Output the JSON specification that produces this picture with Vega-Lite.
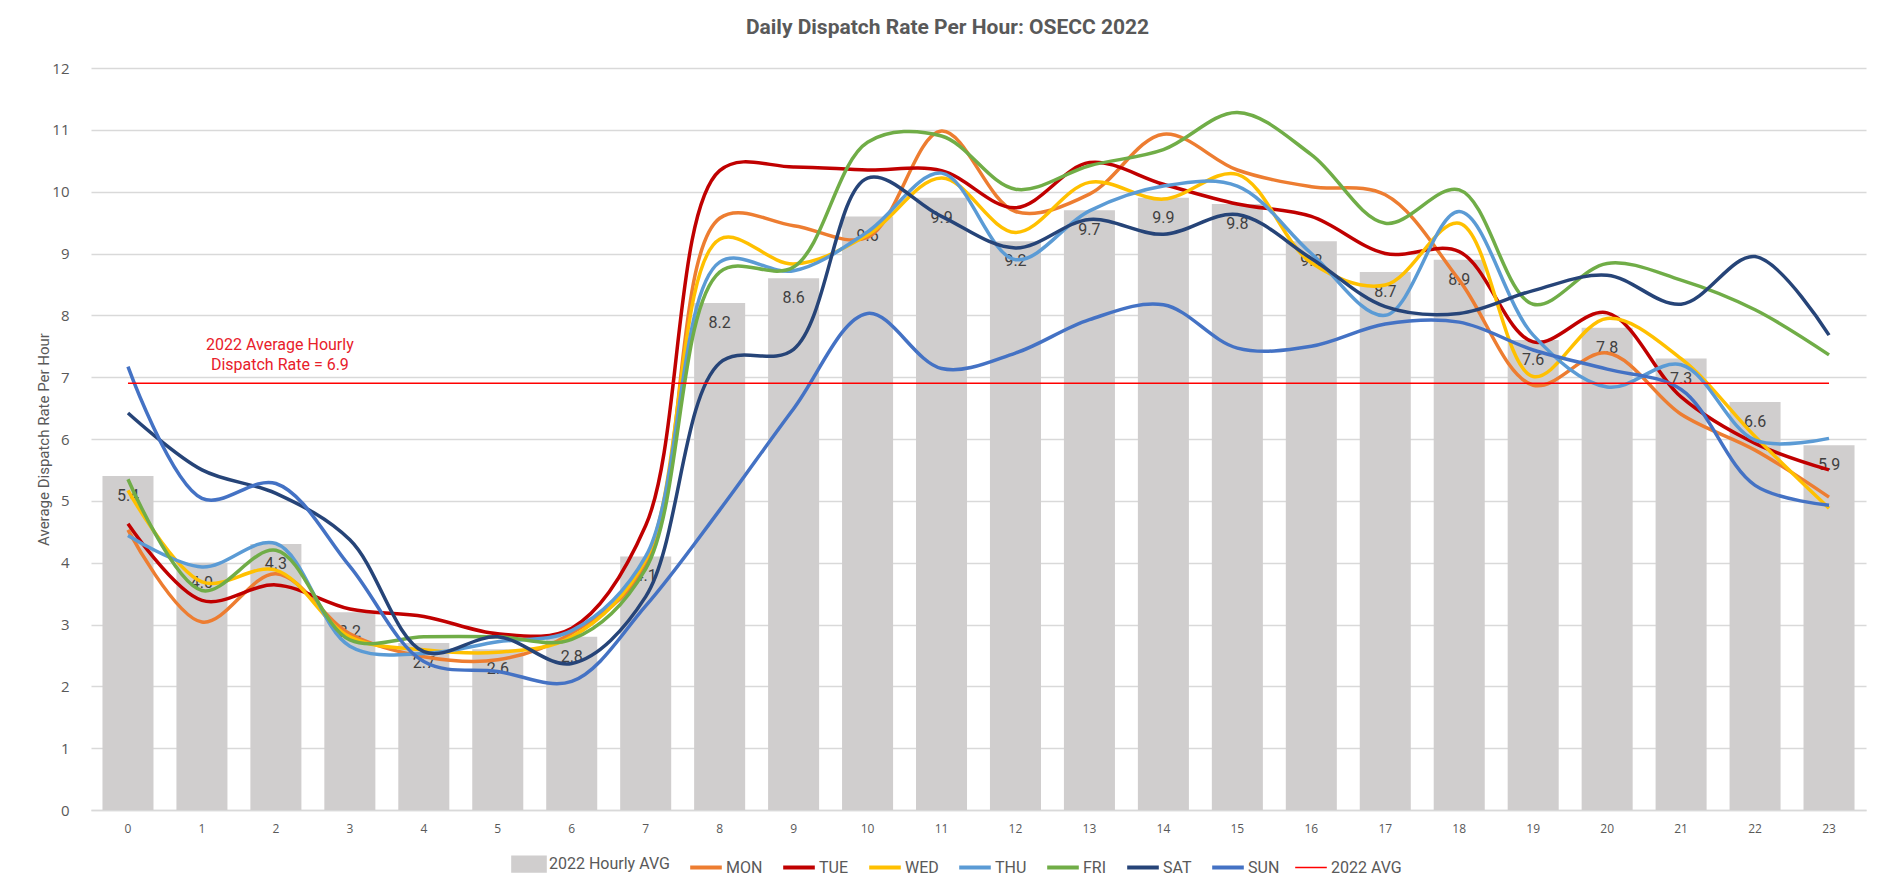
{
  "$schema": "https://vega.github.io/schema/vega-lite/v6.json",
  "autosize": {"type": "none"},
  "width": 1775,
  "height": 742,
  "padding": {"left": 91, "top": 68, "right": 14, "bottom": 80},
  "background": "white",
  "title": {
    "text": "Daily Dispatch Rate Per Hour: OSECC 2022",
    "font": "Roboto, sans-serif",
    "fontSize": 21,
    "fontWeight": "bold",
    "color": "#595959",
    "anchor": "middle",
    "dx": -31,
    "offset": 23
  },
  "config": {
    "view": {"stroke": null},
    "axis": {"grid": false}
  },
  "datasets": {
    "hours": [
      {"hour": 0, "Hourly": 5.4, "MON": 4.53, "TUE": 4.63, "WED": 5.17, "THU": 4.44, "FRI": 5.35, "SAT": 6.42, "SUN": 7.17, "AVG": 6.9},
      {"hour": 1, "Hourly": 4.0, "MON": 3.04, "TUE": 3.39, "WED": 3.69, "THU": 3.93, "FRI": 3.55, "SAT": 5.5, "SUN": 5.04, "AVG": 6.9},
      {"hour": 2, "Hourly": 4.3, "MON": 3.82, "TUE": 3.64, "WED": 3.88, "THU": 4.31, "FRI": 4.2, "SAT": 5.12, "SUN": 5.28, "AVG": 6.9},
      {"hour": 3, "Hourly": 3.2, "MON": 2.85, "TUE": 3.25, "WED": 2.8, "THU": 2.65, "FRI": 2.75, "SAT": 4.37, "SUN": 3.94, "AVG": 6.9},
      {"hour": 4, "Hourly": 2.7, "MON": 2.48, "TUE": 3.13, "WED": 2.59, "THU": 2.53, "FRI": 2.8, "SAT": 2.56, "SUN": 2.4, "AVG": 6.9},
      {"hour": 5, "Hourly": 2.6, "MON": 2.43, "TUE": 2.85, "WED": 2.55, "THU": 2.72, "FRI": 2.8, "SAT": 2.8, "SUN": 2.24, "AVG": 6.9},
      {"hour": 6, "Hourly": 2.8, "MON": 2.86, "TUE": 2.94, "WED": 2.8, "THU": 2.9, "FRI": 2.76, "SAT": 2.37, "SUN": 2.08, "AVG": 6.9},
      {"hour": 7, "Hourly": 4.1, "MON": 3.95, "TUE": 4.6, "WED": 4.05, "THU": 4.1, "FRI": 3.9, "SAT": 3.45, "SUN": 3.3, "AVG": 6.9},
      {"hour": 8, "Hourly": 8.2, "MON": 9.57, "TUE": 10.34, "WED": 9.23, "THU": 8.86, "FRI": 8.7, "SAT": 7.23, "SUN": 4.85, "AVG": 6.9},
      {"hour": 9, "Hourly": 8.6, "MON": 9.45, "TUE": 10.4, "WED": 8.83, "THU": 8.72, "FRI": 8.78, "SAT": 7.45, "SUN": 6.49, "AVG": 6.9},
      {"hour": 10, "Hourly": 9.6, "MON": 9.26, "TUE": 10.35, "WED": 9.3, "THU": 9.35, "FRI": 10.8, "SAT": 10.22, "SUN": 8.03, "AVG": 6.9},
      {"hour": 11, "Hourly": 9.9, "MON": 10.98, "TUE": 10.34, "WED": 10.22, "THU": 10.3, "FRI": 10.9, "SAT": 9.6, "SUN": 7.14, "AVG": 6.9},
      {"hour": 12, "Hourly": 9.2, "MON": 9.68, "TUE": 9.74, "WED": 9.34, "THU": 8.9, "FRI": 10.04, "SAT": 9.09, "SUN": 7.39, "AVG": 6.9},
      {"hour": 13, "Hourly": 9.7, "MON": 9.96, "TUE": 10.47, "WED": 10.15, "THU": 9.69, "FRI": 10.42, "SAT": 9.55, "SUN": 7.93, "AVG": 6.9},
      {"hour": 14, "Hourly": 9.9, "MON": 10.93, "TUE": 10.12, "WED": 9.88, "THU": 10.09, "FRI": 10.68, "SAT": 9.31, "SUN": 8.17, "AVG": 6.9},
      {"hour": 15, "Hourly": 9.8, "MON": 10.35, "TUE": 9.8, "WED": 10.28, "THU": 10.09, "FRI": 11.28, "SAT": 9.63, "SUN": 7.47, "AVG": 6.9},
      {"hour": 16, "Hourly": 9.2, "MON": 10.08, "TUE": 9.6, "WED": 8.85, "THU": 9.0, "FRI": 10.6, "SAT": 8.92, "SUN": 7.5, "AVG": 6.9},
      {"hour": 17, "Hourly": 8.7, "MON": 9.95, "TUE": 9.0, "WED": 8.49, "THU": 8.0, "FRI": 9.49, "SAT": 8.14, "SUN": 7.86, "AVG": 6.9},
      {"hour": 18, "Hourly": 8.9, "MON": 8.57, "TUE": 9.03, "WED": 9.49, "THU": 9.68, "FRI": 10.03, "SAT": 8.03, "SUN": 7.89, "AVG": 6.9},
      {"hour": 19, "Hourly": 7.6, "MON": 6.87, "TUE": 7.57, "WED": 7.01, "THU": 7.68, "FRI": 8.18, "SAT": 8.4, "SUN": 7.44, "AVG": 6.9},
      {"hour": 20, "Hourly": 7.8, "MON": 7.39, "TUE": 8.04, "WED": 7.95, "THU": 6.84, "FRI": 8.84, "SAT": 8.65, "SUN": 7.13, "AVG": 6.9},
      {"hour": 21, "Hourly": 7.3, "MON": 6.4, "TUE": 6.68, "WED": 7.3, "THU": 7.2, "FRI": 8.57, "SAT": 8.18, "SUN": 6.8, "AVG": 6.9},
      {"hour": 22, "Hourly": 6.6, "MON": 5.82, "TUE": 5.93, "WED": 6.04, "THU": 5.98, "FRI": 8.09, "SAT": 8.95, "SUN": 5.25, "AVG": 6.9},
      {"hour": 23, "Hourly": 5.9, "MON": 5.06, "TUE": 5.5, "WED": 4.88, "THU": 6.01, "FRI": 7.36, "SAT": 7.68, "SUN": 4.93, "AVG": 6.9}
    ],
    "note": [
      {"hour": 2, "value": 7.52, "label": "2022 Average Hourly\nDispatch Rate = 6.9"}
    ]
  },
  "encoding": {
    "x": {
      "field": "hour",
      "type": "ordinal",
      "scale": {"paddingInner": 0.31, "paddingOuter": 0.155},
      "axis": {
        "title": null,
        "labelAngle": 0,
        "labelFont": "Open Sans, sans-serif",
        "labelFontSize": 12,
        "labelColor": "#595959",
        "labelPadding": 13,
        "ticks": false,
        "domain": true,
        "domainColor": "#D9D9D9",
        "domainWidth": 1.5
      }
    }
  },
  "layer": [
    {
      "data": {"name": "hours"},
      "mark": {"type": "bar", "color": "#D0CECE"},
      "encoding": {
        "y": {
          "field": "Hourly",
          "type": "quantitative",
          "scale": {"domain": [0, 12], "nice": false},
          "axis": {
            "title": "Average Dispatch Rate Per Hour",
            "titleFont": "Roboto, sans-serif",
            "titleFontSize": 15,
            "titleFontWeight": "normal",
            "titleColor": "#595959",
            "titlePadding": 0,
            "values": [0, 1, 2, 3, 4, 5, 6, 7, 8, 9, 10, 11, 12],
            "format": "d",
            "grid": true,
            "gridColor": "#D9D9D9",
            "gridWidth": 1.5,
            "domain": false,
            "ticks": false,
            "labelFont": "Open Sans, sans-serif",
            "labelFontSize": 15,
            "labelColor": "#595959",
            "labelPadding": 22
          }
        },
        "color": {"datum": "2022 Hourly AVG", "type": "nominal"}
      }
    },
    {
      "data": {"name": "hours"},
      "mark": {
        "type": "text",
        "baseline": "middle",
        "dy": 20,
        "font": "Roboto, sans-serif",
        "fontSize": 16,
        "color": "#404040"
      },
      "encoding": {
        "y": {"field": "Hourly", "type": "quantitative"},
        "text": {"field": "Hourly", "type": "quantitative", "format": ".1f"}
      }
    },
    {
      "data": {"name": "hours"},
      "transform": [
        {"fold": ["MON", "TUE", "WED", "THU", "FRI", "SAT", "SUN", "AVG"], "as": ["series", "rate"]},
        {"lookup": "series", "from": {"data": {"values": [
          {"series": "MON", "name": "MON", "w": 3.5},
          {"series": "TUE", "name": "TUE", "w": 3.5},
          {"series": "WED", "name": "WED", "w": 3.5},
          {"series": "THU", "name": "THU", "w": 3.5},
          {"series": "FRI", "name": "FRI", "w": 3.5},
          {"series": "SAT", "name": "SAT", "w": 3.5},
          {"series": "SUN", "name": "SUN", "w": 3.5},
          {"series": "AVG", "name": "2022 AVG", "w": 1.5}
        ]}, "key": "series", "fields": ["name", "w"]}}
      ],
      "mark": {"type": "line", "interpolate": "catmull-rom"},
      "encoding": {
        "y": {"field": "rate", "type": "quantitative"},
        "strokeWidth": {"field": "w", "type": "quantitative", "scale": null, "legend": null},
        "color": {
          "field": "name",
          "type": "nominal",
          "scale": {
            "domain": ["2022 Hourly AVG", "MON", "TUE", "WED", "THU", "FRI", "SAT", "SUN", "2022 AVG"],
            "range": ["#D0CECE", "#ED7D31", "#C00000", "#FFC000", "#5B9BD5", "#70AD47", "#264478", "#4472C4", "#FF0000"]
          },
          "legend": {
            "title": null,
            "orient": "none",
            "legendX": 430,
            "legendY": 788,
            "direction": "horizontal",
            "columns": 9,
            "columnPadding": 12,
            "labelFont": "Roboto, sans-serif",
            "labelFontSize": 16,
            "labelColor": "#595959",
            "labelOffset": 12,
            "symbolSize": 1000,
            "encode": {
              "symbols": {
                "update": {
                  "shape": {"signal": "datum.value === '2022 Hourly AVG' ? 'M-1,-0.42H1V0.42H-1Z' : 'stroke'"},
                  "fill": {"signal": "datum.value === '2022 Hourly AVG' ? '#D0CECE' : 'transparent'"},
                  "stroke": {"signal": "datum.value === '2022 Hourly AVG' ? 'transparent' : scale('color', datum.value)"},
                  "strokeWidth": {"signal": "datum.value === '2022 AVG' ? 1.5 : 4"},
                  "opacity": {"value": 1}
                }
              }
            }
          }
        },
        "order": {"field": "hour", "type": "quantitative"}
      }
    },
    {
      "data": {"name": "note"},
      "mark": {
        "type": "text",
        "align": "center",
        "baseline": "middle",
        "lineBreak": "\n",
        "lineHeight": 20,
        "dx": 4,
        "font": "Roboto, sans-serif",
        "fontSize": 16,
        "color": "#E8202A"
      },
      "encoding": {
        "y": {"field": "value", "type": "quantitative"},
        "text": {"field": "label"}
      }
    }
  ]
}
